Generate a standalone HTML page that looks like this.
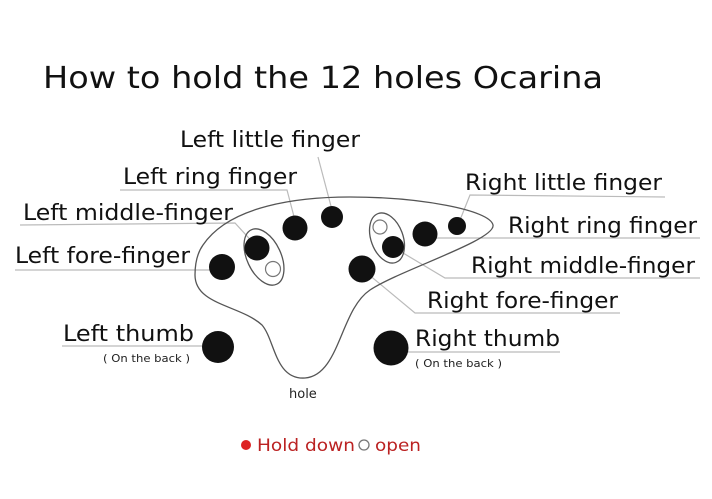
<!DOCTYPE html>
<html><head><style>
html,body{margin:0;padding:0;background:#fff;}
svg{display:block;font-family:"DejaVu Sans","Liberation Sans",sans-serif;}
</style></head><body>
<svg width="712" height="499" viewBox="0 0 712 499">
<rect width="712" height="499" fill="#fff"/>
<text x="43" y="88" font-size="30" fill="#111" textLength="560" lengthAdjust="spacingAndGlyphs">How to hold the 12 holes Ocarina</text>
<g fill="none" stroke="#bbb" stroke-width="1.2">
<polyline points="318,157 332,210"/>
<polyline points="120,190 287,190 297,228"/>
<polyline points="20,225 235,223 257,247"/>
<polyline points="15,270 222,270"/>
<polyline points="62,346 218,346"/>
<polyline points="665,197 470,195 458,225"/>
<polyline points="425,238 700,238"/>
<polyline points="393,247 445,278 700,278"/>
<polyline points="362,269 415,313 620,313"/>
<polyline points="391,352 560,352"/>
</g>
<path d="M203,245 C230,205 300,197 350,197 C420,197 490,210 493,225 C496,240 400,270 370,290 C340,310 340,375 305,378 C275,380 275,340 262,325 C240,305 195,305 195,275 C195,262 198,252 203,245 Z" fill="none" stroke="#555" stroke-width="1.3"/>
<ellipse cx="264" cy="257" rx="17" ry="30" transform="rotate(-25 264 257)" fill="none" stroke="#555" stroke-width="1.3"/>
<ellipse cx="387" cy="238" rx="16" ry="26" transform="rotate(-20 387 238)" fill="none" stroke="#555" stroke-width="1.3"/>
<g fill="#111">
<circle cx="222" cy="267" r="13"/>
<circle cx="257" cy="248" r="12.5"/>
<circle cx="295" cy="228" r="12.5"/>
<circle cx="332" cy="217" r="11"/>
<circle cx="362" cy="269" r="13.5"/>
<circle cx="393" cy="247" r="11"/>
<circle cx="425" cy="234" r="12.5"/>
<circle cx="457" cy="226" r="9"/>
<circle cx="218" cy="347" r="16"/>
<circle cx="391" cy="348" r="17.5"/>
</g>
<g fill="#fff" stroke="#777" stroke-width="1.2">
<circle cx="273" cy="269" r="7.5"/>
<circle cx="380" cy="227" r="7"/>
</g>
<g font-size="22" fill="#111">
<text x="180" y="147" textLength="180" lengthAdjust="spacingAndGlyphs">Left little finger</text>
<text x="123" y="184" textLength="174" lengthAdjust="spacingAndGlyphs">Left ring finger</text>
<text x="23" y="220" textLength="210" lengthAdjust="spacingAndGlyphs">Left middle-finger</text>
<text x="15" y="263" textLength="175" lengthAdjust="spacingAndGlyphs">Left fore-finger</text>
<text x="63" y="341" textLength="131" lengthAdjust="spacingAndGlyphs">Left thumb</text>
<text x="465" y="190" textLength="197" lengthAdjust="spacingAndGlyphs">Right little finger</text>
<text x="508" y="233" textLength="189" lengthAdjust="spacingAndGlyphs">Right ring finger</text>
<text x="471" y="273" textLength="224" lengthAdjust="spacingAndGlyphs">Right middle-finger</text>
<text x="427" y="308" textLength="191" lengthAdjust="spacingAndGlyphs">Right fore-finger</text>
<text x="415" y="346" textLength="145" lengthAdjust="spacingAndGlyphs">Right thumb</text>
</g>
<g font-size="11" fill="#222">
<text x="103" y="362" textLength="87" lengthAdjust="spacingAndGlyphs">( On the back )</text>
<text x="415" y="367" textLength="87" lengthAdjust="spacingAndGlyphs">( On the back )</text>
<text x="289" y="398" font-size="13">hole</text>
</g>
<circle cx="246" cy="445" r="5" fill="#d22"/>
<text x="257" y="451" font-size="17" fill="#b22" textLength="98" lengthAdjust="spacingAndGlyphs">Hold down</text>
<circle cx="364" cy="445" r="5" fill="none" stroke="#777" stroke-width="1.3"/>
<text x="375" y="451" font-size="17" fill="#b22" textLength="46" lengthAdjust="spacingAndGlyphs">open</text>
</svg>
</body></html>
